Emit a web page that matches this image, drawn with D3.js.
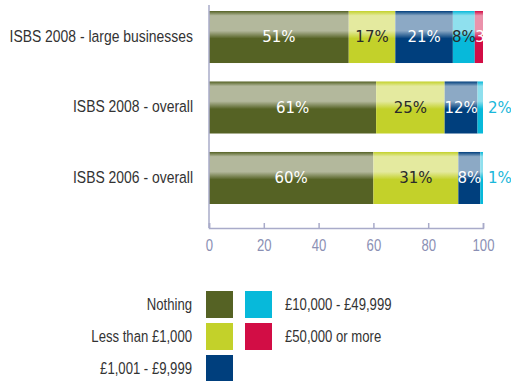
<!DOCTYPE html>
<html>
<head>
<meta charset="utf-8">
<script src="https://cdn.jsdelivr.net/npm/d3@7"></script>
<style>
  html, body { margin: 0; padding: 0; background: #fff; }
  svg { display: block; font-family: "Liberation Sans", Arial, sans-serif; }
  .val { font-family: "DejaVu Sans", Verdana, sans-serif; }
</style>
</head>
<body>
<svg id="chart" width="511" height="381"></svg>
<script>
// Survey groups, top to bottom
const categories = ["ISBS 2008 - large businesses", "ISBS 2008 - overall", "ISBS 2006 - overall"];
// Spending bands (stack order, left to right)
const seriesNames = ["Nothing", "Less than £1,000", "£1,001 - £9,999", "£10,000 - £49,999", "£50,000 or more"];
const seriesColors = ["#556224", "#c3d12a", "#003f7d", "#07b9da", "#d20d45"];
// Percent of respondents per band, one array per group
const largeBusinesses2008 = [51, 17, 21, 8, 3];
const overall2008 = [61, 25, 12, 2, 0];
const overall2006 = [60, 31, 8, 1, 0];
const xTicks = [0, 20, 40, 60, 80, 100];

const groupValues = [largeBusinesses2008, overall2008, overall2006];

// Condensed look: Liberation Sans squeezed horizontally
const NARROW = 0.82;
function narrowText(parent, px, py, size, anchor, fill, str) {
  return parent.append("text")
    .attr("transform", `translate(${px},${py}) scale(${NARROW},1)`)
    .attr("dy", "0.35em")
    .attr("text-anchor", anchor)
    .attr("font-size", size)
    .attr("fill", fill)
    .text(str);
}

const svg = d3.select("#chart");
const x = d3.scaleLinear().domain([0, 100]).range([209, 483]);
const y = d3.scaleBand().domain(categories).range([11, 204]).paddingInner(0.262).paddingOuter(0);

// Glossy vertical gradient for each band colour
const defs = svg.append("defs");
seriesColors.forEach((c, i) => {
  const light = d3.interpolateRgb(c, "#ffffff")(0.55);
  const g = defs.append("linearGradient").attr("id", "grad" + i)
    .attr("x1", 0).attr("y1", 0).attr("x2", 0).attr("y2", 1);
  [[0, c], [0.09, light], [0.38, light], [0.53, c], [1, c]].forEach(([o, col]) =>
    g.append("stop").attr("offset", o).attr("stop-color", col));
});
defs.append("clipPath").attr("id", "plotClip")
  .append("rect").attr("x", x(0)).attr("y", 0).attr("width", x(100) - x(0)).attr("height", 230);

// Stack the rows
const rows = categories.map((cat, i) => {
  const r = { cat };
  seriesNames.forEach((s, j) => r[s] = groupValues[i][j]);
  return r;
});
const stacked = d3.stack().keys(seriesNames)(rows);

const barsG = svg.append("g");
stacked.forEach((layer, j) => {
  barsG.selectAll(null).data(layer).join("rect")
    .attr("x", d => x(d[0]))
    .attr("y", d => y(d.data.cat))
    .attr("width", d => x(d[1]) - x(d[0]))
    .attr("height", y.bandwidth())
    .attr("fill", `url(#grad${j})`);
});

// Value labels
const labelsG = svg.append("g").attr("clip-path", "url(#plotClip)");
const labelFill = ["#ffffff", "#2a2a2a", "#ffffff", "#2a2a2a", "#ffffff"];
stacked.forEach((layer, j) => {
  layer.forEach(d => {
    const v = d[1] - d[0];
    if (v <= 0) return;
    const cy = y(d.data.cat) + y.bandwidth() / 2;
    if (v <= 2 && j === 3) {
      // small slivers get their label outside the bar
      svg.append("text").attr("class", "val").attr("x", x(100) + 5).attr("y", cy).attr("dy", "0.36em")
        .attr("font-size", 15).attr("fill", "#1ab7da").text(v + "%");
      return;
    }
    const narrow = x(d[1]) - x(d[0]) < 16;
    labelsG.append("text").attr("class", "val")
      .attr("x", narrow ? x(d[0]) + 0.5 : (x(d[0]) + x(d[1])) / 2).attr("y", cy).attr("dy", "0.36em")
      .attr("text-anchor", narrow ? "start" : "middle").attr("font-size", 15)
      .attr("fill", labelFill[j]).text(v + "%");
  });
});

// Category labels
const catG = svg.append("g");
categories.forEach(c => narrowText(catG, 193, y(c) + y.bandwidth() / 2 - 1, 17, "end", "#333", c));

// Axes
const axisColor = "#a9abc9";
svg.append("line").attr("x1", x(0)).attr("x2", x(0)).attr("y1", 5).attr("y2", 228)
  .attr("stroke", axisColor).attr("stroke-width", 1.5);
const xAxis = svg.append("g").attr("transform", "translate(0,228)")
  .call(d3.axisBottom(x).tickValues(xTicks).tickSize(-5).tickFormat(""));
xAxis.select(".domain").attr("stroke", axisColor).attr("stroke-width", 1.5);
xAxis.selectAll(".tick line").attr("stroke", axisColor).attr("stroke-width", 1.5);
xAxis.selectAll(".tick").each(function (t) {
  narrowText(d3.select(this), 0, 17, 16, "middle", "#8b90b4", String(t));
});

// Legend
const legendItems = [
  { i: 0, col: 0, row: 0 }, { i: 1, col: 0, row: 1 }, { i: 2, col: 0, row: 2 },
  { i: 3, col: 1, row: 0 }, { i: 4, col: 1, row: 1 }
];
const legend = svg.append("g");
legendItems.forEach(it => {
  const sx = it.col === 0 ? 206 : 245;
  const sy = 291 + it.row * 32;
  legend.append("rect").attr("x", sx).attr("y", sy).attr("width", 27).attr("height", 27)
    .attr("fill", seriesColors[it.i]);
  narrowText(legend, it.col === 0 ? 192 : 285, sy + 13.5, 16,
    it.col === 0 ? "end" : "start", "#333", seriesNames[it.i]);
});
</script>
</body>
</html>
